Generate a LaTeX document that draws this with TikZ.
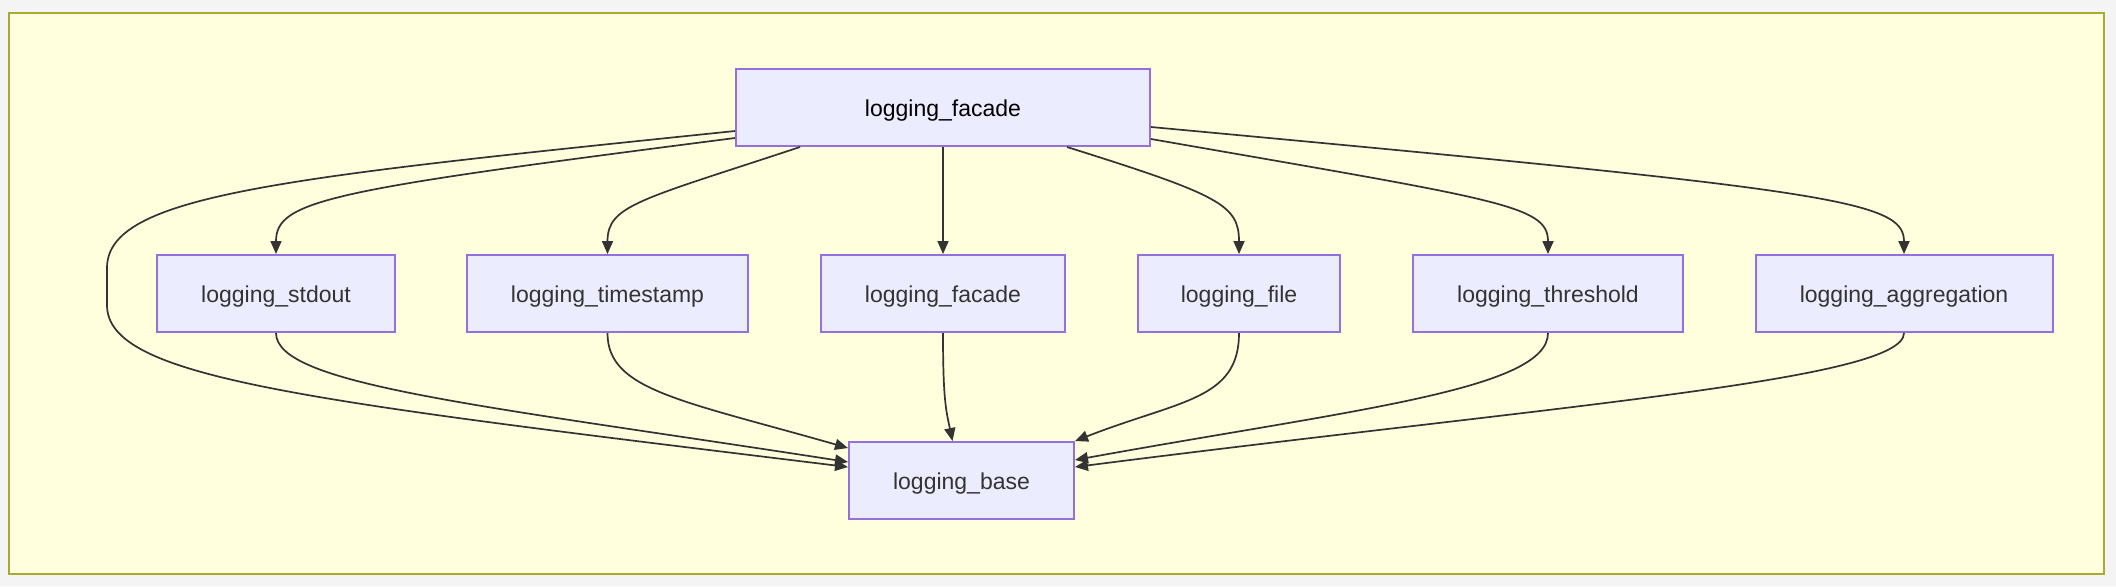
\documentclass[tikz,border=0pt]{standalone}
\usepackage{fontspec}
\setmainfont{Liberation Sans}
\usetikzlibrary{arrows.meta,calc}

\definecolor{modfill}{HTML}{ECECFF}
\definecolor{modline}{HTML}{9370DB}
\definecolor{depline}{HTML}{333333}
\definecolor{groupfill}{HTML}{FFFFDE}
\definecolor{groupline}{HTML}{AAAA33}
\definecolor{pagegrey}{HTML}{F4F4F4}

\begin{document}
\begin{tikzpicture}[x=0.5pt, y=-0.5pt,
    modbox/.style={draw=modline, fill=modfill, line width=1pt, inner sep=0pt,
      minimum height=38.5pt, text height=11pt, text depth=2pt,
      text=depline, font=\fontsize{11.5pt}{14pt}\selectfont},
    dep/.style={draw=depline, line width=0.85pt, -{Triangle[length=6.5pt,width=5.5pt]}}]

  \fill[pagegrey] (0,0) rectangle (2116,586);
  \draw[groupline, fill=groupfill, line width=1pt] (9,13) rectangle (2104,574);

  \node[modbox, minimum width=207pt, text=black] (facade) at (943,107.5) {logging\_facade};

  \node[modbox, minimum width=119pt]   (stdout)      at (276,293.5)  {logging\_stdout};
  \node[modbox, minimum width=140.5pt] (timestamp)   at (607.5,293.5) {logging\_timestamp};
  \node[modbox, minimum width=122pt]   (facadeb)     at (943,293.5)  {logging\_facade};
  \node[modbox, minimum width=101pt]   (file)        at (1239,293.5) {logging\_file};
  \node[modbox, minimum width=135pt]   (threshold)   at (1548,293.5) {logging\_threshold};
  \node[modbox, minimum width=148.5pt] (aggregation) at (1904,293.5) {logging\_aggregation};

  \node[modbox, minimum width=112.5pt] (base) at (961.5,480.5) {logging\_base};

  % top row down to the middle row
  \draw[dep] ($(facade.west)+(0,23.5)$) .. controls (280,178) and (107,195) .. (107,268)
    -- (107,305) .. controls (107,378) and (300,400) .. ($(base.west)+(0,-13.5)$);
  \draw[dep] ($(facade.west)+(0,30.5)$) .. controls (330,190) and (276,200) .. (stdout.north);
  \draw[dep] ($(facade.south)+(-143,0)$) .. controls (640,200) and (607.5,205) .. (timestamp.north);
  \draw[dep] (facade.south) -- (facadeb.north);
  \draw[dep] ($(facade.south)+(124,0)$) .. controls (1220,195) and (1239,205) .. (file.north);
  \draw[dep] ($(facade.east)+(0,31.5)$) .. controls (1500,200) and (1548,205) .. (threshold.north);
  \draw[dep] ($(facade.east)+(0,19.5)$) .. controls (1830,190) and (1904,200) .. (aggregation.north);

  % middle row down to the base
  \draw[dep] (stdout.south) .. controls (276,385) and (480,405) .. ($(base.west)+(0,-18.5)$);
  \draw[dep] (timestamp.south) .. controls (607.5,390) and (680,400) .. ($(base.west)+(0,-32.5)$);
  \draw[dep] (facadeb.south) .. controls (943,400) and (946,410) .. ($(base.north)+(-9,0)$);
  \draw[dep] (file.south) .. controls (1239,400) and (1180,400) .. (base.north east);
  \draw[dep] (threshold.south) .. controls (1548,390) and (1350,410) .. ($(base.east)+(0,-20.5)$);
  \draw[dep] (aggregation.south) .. controls (1904,380) and (1560,405) .. ($(base.east)+(0,-13.5)$);

\end{tikzpicture}
\end{document}
